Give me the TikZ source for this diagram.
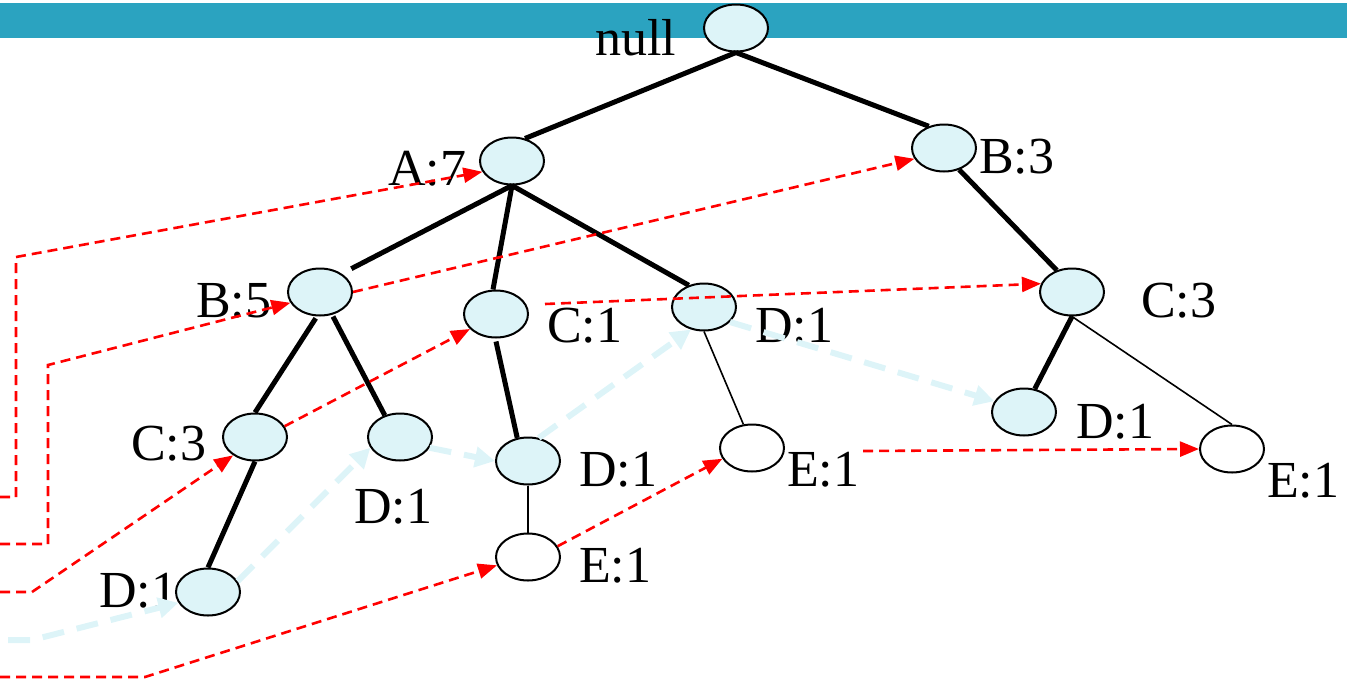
\documentclass[tikz,border=0pt]{standalone}
\usepackage{fontspec}
\setmainfont{Liberation Serif}
\usetikzlibrary{arrows.meta,shapes.geometric}
\definecolor{barblue}{RGB}{43,163,192}
\definecolor{nodefill}{RGB}{221,244,248}
\definecolor{linkred}{RGB}{255,0,0}
\begin{document}
\begin{tikzpicture}[x=1pt,y=-1pt,
  fp/.style={ellipse,draw,line width=2pt,fill=nodefill,minimum width=64pt,minimum height=47pt,inner sep=0pt},
  fpw/.style={fp,fill=white},
  lbl/.style={anchor=base west,inner sep=0pt,font=\fontsize{52}{56}\selectfont},
  heavy/.style={line width=5pt},
  lightedge/.style={line width=1.6pt},
  headlink/.style={draw=linkred,line width=2.6pt,dash pattern=on 10pt off 6pt,-{Triangle[length=19pt,width=15pt]}},
  nodelink/.style={draw=nodefill,line width=6pt,dash pattern=on 22pt off 13pt,-{Triangle[length=20pt,width=20pt]}}
]
\useasboundingbox (0,0) rectangle (1347,686);
\fill[barblue] (0,3) rectangle (1347,38);

% labels
\node[lbl] (lnul) at (595,55) {null};
\node[lbl] (la7) at (388,185) {A:7};
\node[lbl] (lb3) at (979,173) {B:3};
\node[lbl] (lb5) at (196,317) {B:5};
\node[lbl] (lc1) at (547,342) {C:1};
\node[lbl] (ld1a) at (755,342) {D:1};
\node[lbl] (lc3r) at (1141,317) {C:3};
\node[lbl] (lc3l) at (131,460) {C:3};
\node[lbl] (ld1b) at (354,523) {D:1};
\node[lbl] (ld1m) at (579,486) {D:1};
\node[lbl] (le1m) at (787,486) {E:1};
\node[lbl] (ld1r) at (1076,438) {D:1};
\node[lbl] (le1r) at (1267,497) {E:1};
\node[lbl] (ld1low) at (99,607) {D:1};
\node[lbl] (le1low) at (579,582) {E:1};

% tree nodes
\node[fp] (nul) at (736,28) {};
\node[fp] (a7) at (512,161) {};
\node[fp] (b3) at (944,148) {};
\node[fp] (b5) at (320,292) {};
\node[fp] (c1) at (496,314) {};
\node[fp] (d1a) at (704,307) {};
\node[fp] (c3r) at (1072,292) {};
\node[fp] (c3l) at (255,437) {};
\node[fp] (d1b) at (400,437) {};
\node[fp] (d1m) at (528,461) {};
\node[fpw] (e1m) at (752,448) {};
\node[fp] (d1r) at (1024,412) {};
\node[fpw] (e1r) at (1232,449) {};
\node[fp] (d1low) at (208,592) {};
\node[fpw] (e1low) at (528,557) {};

% tree edges
\draw[heavy] (nul.south) -- (a7.60);
\draw[heavy] (nul.south) -- (b3.125);
\draw[heavy] (a7.south) -- ([xshift=8pt,yshift=6pt]b5.north east);
\draw[heavy] (a7.south) -- ([xshift=-3pt]c1.north);
\draw[heavy] (a7.south) -- (d1a.125);
\draw[heavy] (b3.-55) -- (c3r.125);
\draw[heavy] ([yshift=-2pt]b5.-100) -- (c3l.north);
\draw[heavy] ([yshift=-2pt]b5.-60) -- (d1b.125);
\draw[heavy] (c3l.south) -- (d1low.north);
\draw[heavy] ([yshift=-3pt]c1.south) -- (d1m.115);
\draw[heavy] (c3r.south) -- (d1r.65);
\draw[lightedge] (c3r.south) -- (e1r.north);
\draw[lightedge] (d1a.south) -- (e1m.110);
\draw[lightedge] (d1m.south) -- (e1low.north);

% node links (light blue)
\coordinate (nls) at (8,640);
\coordinate (nlb) at (32,640);
\draw[nodelink] (nls) -- (nlb) -- (d1low.200);
\draw[nodelink] (d1low.20) -- (d1b.200);
\draw[nodelink] (d1b.-20) -- (d1m.180);
\draw[nodelink] (d1m.65) -- (d1a.240);
\draw[nodelink] (d1a.-30) -- (d1r.160);

% header links (red)
\coordinate (h1s) at (0,497);
\coordinate (h1a) at (16,497);
\coordinate (h1b) at (16,257);
\draw[headlink] (h1s) -- (h1a) -- (h1b) -- (a7.200);
\coordinate (h2s) at (0,544);
\coordinate (h2a) at (48,544);
\coordinate (h2b) at (48,365);
\draw[headlink] (h2s) -- (h2a) -- (h2b) -- (b5.200);
\coordinate (h3s) at (0,592);
\coordinate (h3a) at (32,592);
\draw[headlink] (h3s) -- (h3a) -- (c3l.220);
\coordinate (h5s) at (0,677);
\coordinate (h5a) at (145,677);
\draw[headlink] (h5s) -- (h5a) -- (e1low.195);
\draw[headlink] (b5.east) -- (b3.200);
\draw[headlink] (c3l.20) -- (c1.210);
\coordinate (h8s) at (545,304);
\draw[headlink] (h8s) -- (c3r.165);
\draw[headlink] (e1low.20) -- (e1m.200);
\coordinate (h10s) at (863,451);
\draw[headlink] (h10s) -- (e1r.west);
\end{tikzpicture}
\end{document}
